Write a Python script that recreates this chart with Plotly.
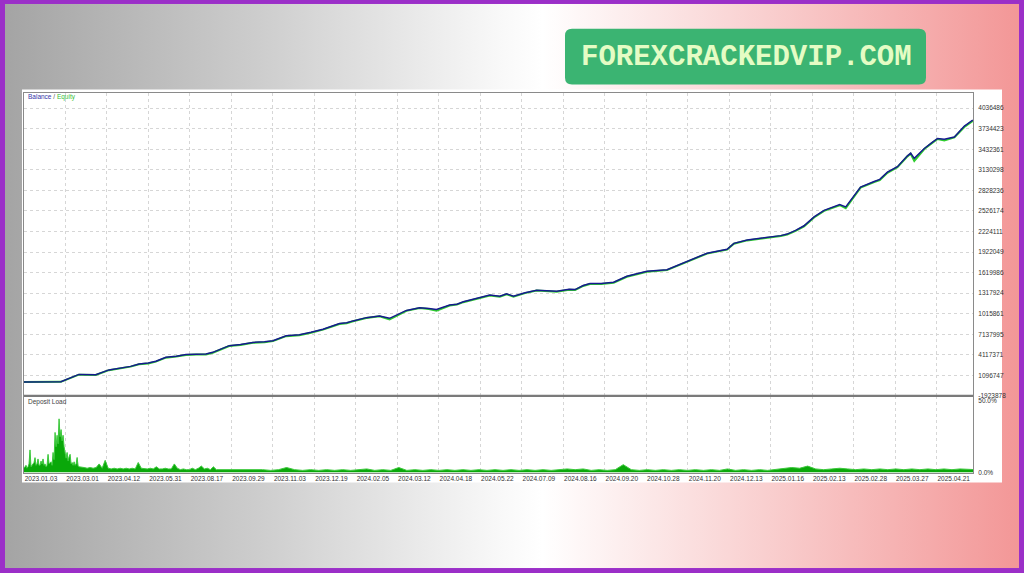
import base64
import numpy as np
import plotly.graph_objects as go

# ---------------- data ----------------
date_labels = ["2023.01.03", "2023.03.01", "2023.04.12", "2023.05.31", "2023.08.17", "2023.09.29",
               "2023.11.03", "2023.12.19", "2024.02.05", "2024.03.12", "2024.04.18", "2024.05.22",
               "2024.07.09", "2024.08.16", "2024.09.20", "2024.10.28", "2024.11.20", "2024.12.13",
               "2025.01.16", "2025.02.13", "2025.02.28", "2025.03.27", "2025.04.21"]
deals_per_date_step = 103.5
deal_total = 2367.5

balance_deal = [0, 92, 137, 179, 212, 245, 266, 287, 310, 329, 354, 380, 404, 430, 454, 471, 512,
                540, 571, 600, 621, 654, 687, 716, 746, 787, 805, 821, 854, 887, 912, 954, 987,
                1010, 1029, 1062, 1080, 1096, 1137, 1162, 1187, 1204, 1221, 1250, 1279, 1300,
                1329, 1360, 1375, 1395, 1412, 1440, 1471, 1504, 1554, 1604, 1654, 1704, 1754,
                1771, 1804, 1821, 1850, 1870, 1888, 1904, 1925, 1946, 1971, 1996, 2021, 2035,
                2050, 2087, 2121, 2135, 2154, 2179, 2204, 2212, 2221, 2246, 2265, 2279, 2296,
                2321, 2346, 2367]
balance = [115000, 150000, 1240000, 1200000, 1900000, 2200000, 2420000, 2780000, 2900000,
           3170000, 3760000, 3920000, 4150000, 4200000, 4240000, 4480000, 5460000, 5620000,
           5940000, 6020000, 6190000, 6920000, 7060000, 7420000, 7880000, 8710000, 8820000,
           9100000, 9580000, 9830000, 9480000, 10640000, 11040000, 10920000, 10790000,
           11430000, 11560000, 11910000, 12490000, 12890000, 12740000, 13080000, 12740000,
           13240000, 13620000, 13560000, 13470000, 13750000, 13700000, 14300000, 14580000,
           14600000, 14780000, 15650000, 16380000, 16620000, 17850000, 19050000, 19630000,
           20500000, 20990000, 21130000, 21300000, 21450000, 21630000, 21860000, 22400000,
           23080000, 24390000, 25350000, 25850000, 26200000, 25850000, 28760000, 29580000,
           29900000, 30950000, 31760000, 33360000, 33760000, 32990000, 34440000, 35300000,
           35900000, 35800000, 36130000, 37730000, 38610000]
equity = [115000, 150000, 1200000, 1150000, 1860000, 2150000, 2380000, 2730000, 2850000,
          3120000, 3700000, 3870000, 4100000, 4150000, 4180000, 4430000, 5400000, 5570000,
          5880000, 5960000, 6130000, 6860000, 7000000, 7360000, 7820000, 8650000, 8760000,
          9040000, 9520000, 9770000, 9300000, 10580000, 10980000, 10850000, 10600000,
          11370000, 11500000, 11850000, 12430000, 12830000, 12650000, 13020000, 12650000,
          13180000, 13560000, 13500000, 13400000, 13690000, 13640000, 14240000, 14520000,
          14540000, 14720000, 15590000, 16320000, 16560000, 17790000, 18990000, 19570000,
          20440000, 20930000, 21070000, 21240000, 21390000, 21570000, 21800000, 22330000,
          23000000, 24300000, 25280000, 25780000, 26100000, 25650000, 28680000, 29500000,
          29800000, 30870000, 31680000, 33280000, 33650000, 32600000, 34360000, 35220000,
          35820000, 35600000, 36050000, 37600000, 38500000]

# deposit load (%), three sampled segments of the deal axis
load_early = [3, 4, 5, 3, 4, 6, 15.8, 4, 5, 6, 7, 10.4, 5, 6, 9.5, 5, 5, 8, 6, 9.5, 5, 6, 4, 5,
              12.7, 6, 7, 7.5, 5, 14, 9, 28, 18, 26, 20, 37.5, 25, 30, 22, 26, 18, 12, 10, 14, 8,
              11, 12.7, 6, 7, 5, 7.5, 5, 6, 10.5, 4.5, 4]
load_mid = [4, 3.5, 3, 3.5, 3, 3.5, 6, 3, 8.5, 3, 2.5, 3, 2.5, 3, 2.5, 3, 2.5, 3, 2.5, 7, 3, 2.5,
            2.5, 3, 2.5, 4, 2.5, 2.5, 3, 2.5, 2.5, 6, 3, 2, 2.5, 2, 2, 3, 2, 3, 4.5, 2.5, 3, 2, 4,
            2, 2, 2.5, 2, 2, 2, 2.5, 2, 2, 2, 2.5, 2, 2, 2, 2]
load_late = [2, 1.5, 2, 3.5, 2, 1.5, 2, 1.5, 2, 1.5, 2, 1.5, 2, 2.5, 1.5, 2, 1.5, 3.5, 1.5, 2,
             1.5, 2, 1.5, 2, 1.5, 2, 1.5, 2, 1.5, 2, 1.5, 2, 1.5, 2, 1.5, 2, 1.5, 2, 2.5, 2, 2.5,
             1.5, 2, 1.5, 2, 5.5, 2, 1.5, 2, 1.5, 2, 1.5, 2, 1.5, 2, 1.5, 2, 1.5, 2.5, 1.5, 2, 1.5,
             2, 1.5, 2, 3, 3.5, 3, 4.5, 2.5, 2, 2.5, 3, 2.5, 2, 2.5, 2, 2.5, 2, 2.5, 2, 2.5, 2,
             2.5, 2, 2.5, 2, 2.5, 2, 2]
load_segments = [(0.0, 2.5, load_early), (142.5, 7.5, load_mid), (595.0, 20.0, load_late)]

y_ticktext = ["-1923878", "1096747", "4117371", "7137995", "1015861", "1317924", "1619986",
              "1922049", "2224111", "2526174", "2828236", "3130298", "3432361", "3734423", "4036486"]
y_tick_start = -1923878
y_tick_step = 3020624
y_top = 42660000

# ---------------- helpers ----------------
W, H = 1024, 576
def px(x):
    return x / W
def py(y):
    return 1 - y / H

load_x, load_y = [], []
for start, step, vals in load_segments:
    load_x.extend(list(start + step * np.arange(len(vals))))
    load_y.extend(vals)

x_ticks = [i * deals_per_date_step for i in range(len(date_labels))]
y_tickvals = [y_tick_start + i * y_tick_step for i in range(len(y_ticktext))]

# background (gradient + purple frame) as inline svg
svg = f"""<svg xmlns='http://www.w3.org/2000/svg' width='{W}' height='{H}' viewBox='0 0 {W} {H}'>
<defs><linearGradient id='g' x1='0' y1='0' x2='1' y2='0'>
<stop offset='0' stop-color='#a4a4a4'/><stop offset='0.25' stop-color='#cdcdcd'/>
<stop offset='0.48' stop-color='#f7f7f7'/><stop offset='0.53' stop-color='#ffffff'/>
<stop offset='0.75' stop-color='#f9cfcf'/><stop offset='1' stop-color='#f39797'/>
</linearGradient></defs>
<rect width='{W}' height='{H}' fill='#9b2fc8'/>
<rect x='5' y='4' width='{W-10}' height='{H-9}' fill='url(#g)'/>
</svg>"""
svg_uri = "data:image/svg+xml;base64," + base64.b64encode(svg.encode()).decode()

fig = go.Figure()

fig.add_trace(go.Scatter(x=balance_deal, y=equity, mode="lines", name="Equity",
                         line=dict(color="#2ecc2e", width=2), xaxis="x", yaxis="y",
                         hoverinfo="skip"))
fig.add_trace(go.Scatter(x=balance_deal, y=balance, mode="lines", name="Balance",
                         line=dict(color="#16198f", width=1.5), xaxis="x", yaxis="y"))
fig.add_trace(go.Scatter(x=load_x, y=load_y, mode="lines", name="Deposit Load",
                         line=dict(color="#3cc83c", width=1), fill="tozeroy",
                         fillcolor="#0aa80a", xaxis="x2", yaxis="y2"))

tick_font = dict(family="Liberation Sans", size=6.5, color="#333333")
grid = dict(showgrid=True, gridcolor="#d6d6d6", griddash="dot", gridwidth=1)
dom_x = [px(24), px(973)]

fig.update_layout(
    width=W, height=H, margin=dict(l=0, r=0, t=0, b=0),
    paper_bgcolor="#ffffff", plot_bgcolor="#ffffff", showlegend=False,
    xaxis=dict(domain=dom_x, range=[0, deal_total], anchor="y", tickmode="array",
               tickvals=x_ticks, showticklabels=False, ticks="", zeroline=False,
               showline=True, linecolor="#8a8a8a", linewidth=1, mirror=True, **grid),
    yaxis=dict(domain=[py(398), py(93)], range=[y_tick_start, y_top], anchor="x",
               side="right", tickmode="array", tickvals=y_tickvals, ticktext=y_ticktext,
               tickfont=tick_font, ticks="", ticklabelstandoff=3, zeroline=False,
               showline=True, linecolor="#8a8a8a", linewidth=1, mirror=True, **grid),
    xaxis2=dict(domain=dom_x, range=[0, deal_total], anchor="y2", tickmode="array",
                tickvals=x_ticks, ticktext=date_labels, tickfont=tick_font, ticks="",
                ticklabelshift=17, ticklabelstandoff=0, zeroline=False,
                showline=True, linecolor="#8a8a8a", linewidth=1, mirror=True, **grid),
    yaxis2=dict(domain=[py(475), py(398)], range=[0, 53.5], anchor="x2", side="right",
                tickmode="array", tickvals=[0, 50], ticktext=["0.0%", "50.0%"],
                tickfont=tick_font, ticks="", ticklabelstandoff=3, showgrid=False,
                zeroline=False, showline=True, linecolor="#8a8a8a", linewidth=1, mirror=True),
    images=[dict(source=svg_uri, xref="paper", yref="paper", x=0, y=1, sizex=1, sizey=1,
                 xanchor="left", yanchor="top", sizing="stretch", layer="below")],
)

# white chart panel
fig.add_shape(type="rect", xref="paper", yref="paper", x0=px(22), x1=px(1002),
              y0=py(485), y1=py(90), fillcolor="#ffffff", line=dict(width=0), layer="below")
# separator between panes
fig.add_shape(type="line", xref="paper", yref="paper", x0=px(24), x1=px(973),
              y0=py(398), y1=py(398), line=dict(color="#7a7a7a", width=2.2))

# logo badge with rounded corners
x0, x1, y0, y1, r = 565, 926, 29, 85, 7
path = (f"M {px(x0+r)},{py(y0)} L {px(x1-r)},{py(y0)} Q {px(x1)},{py(y0)} {px(x1)},{py(y0+r)} "
        f"L {px(x1)},{py(y1-r)} Q {px(x1)},{py(y1)} {px(x1-r)},{py(y1)} "
        f"L {px(x0+r)},{py(y1)} Q {px(x0)},{py(y1)} {px(x0)},{py(y1-r)} "
        f"L {px(x0)},{py(y0+r)} Q {px(x0)},{py(y0)} {px(x0+r)},{py(y0)} Z")
fig.add_shape(type="path", xref="paper", yref="paper", path=path, fillcolor="#3bb472",
              line=dict(width=0), layer="above")

fig.add_annotation(xref="paper", yref="paper", x=px(746), y=py(57.5),
                   text="<b>FOREXCRACKEDVIP.COM</b>",
                   showarrow=False, xanchor="center", yanchor="middle",
                   font=dict(family="Liberation Mono", size=29, color="#e4fcc4"))
fig.add_annotation(xref="paper", yref="paper", x=px(26), y=py(98),
                   text="<span style='color:#3434a8'>Balance</span>"
                        "<span style='color:#555555'> / </span>"
                        "<span style='color:#38c038'>Equity</span>",
                   showarrow=False, xanchor="left", yanchor="middle",
                   font=dict(family="Liberation Sans", size=6.5))
fig.add_annotation(xref="paper", yref="paper", x=px(26), y=py(404.5), text="Deposit Load",
                   showarrow=False, xanchor="left", yanchor="middle",
                   font=dict(family="Liberation Sans", size=6.5, color="#444444"))

fig.write_html("out.html", config={"displayModeBar": False},
               post_script="document.body.style.margin='0';document.body.style.padding='0';")
